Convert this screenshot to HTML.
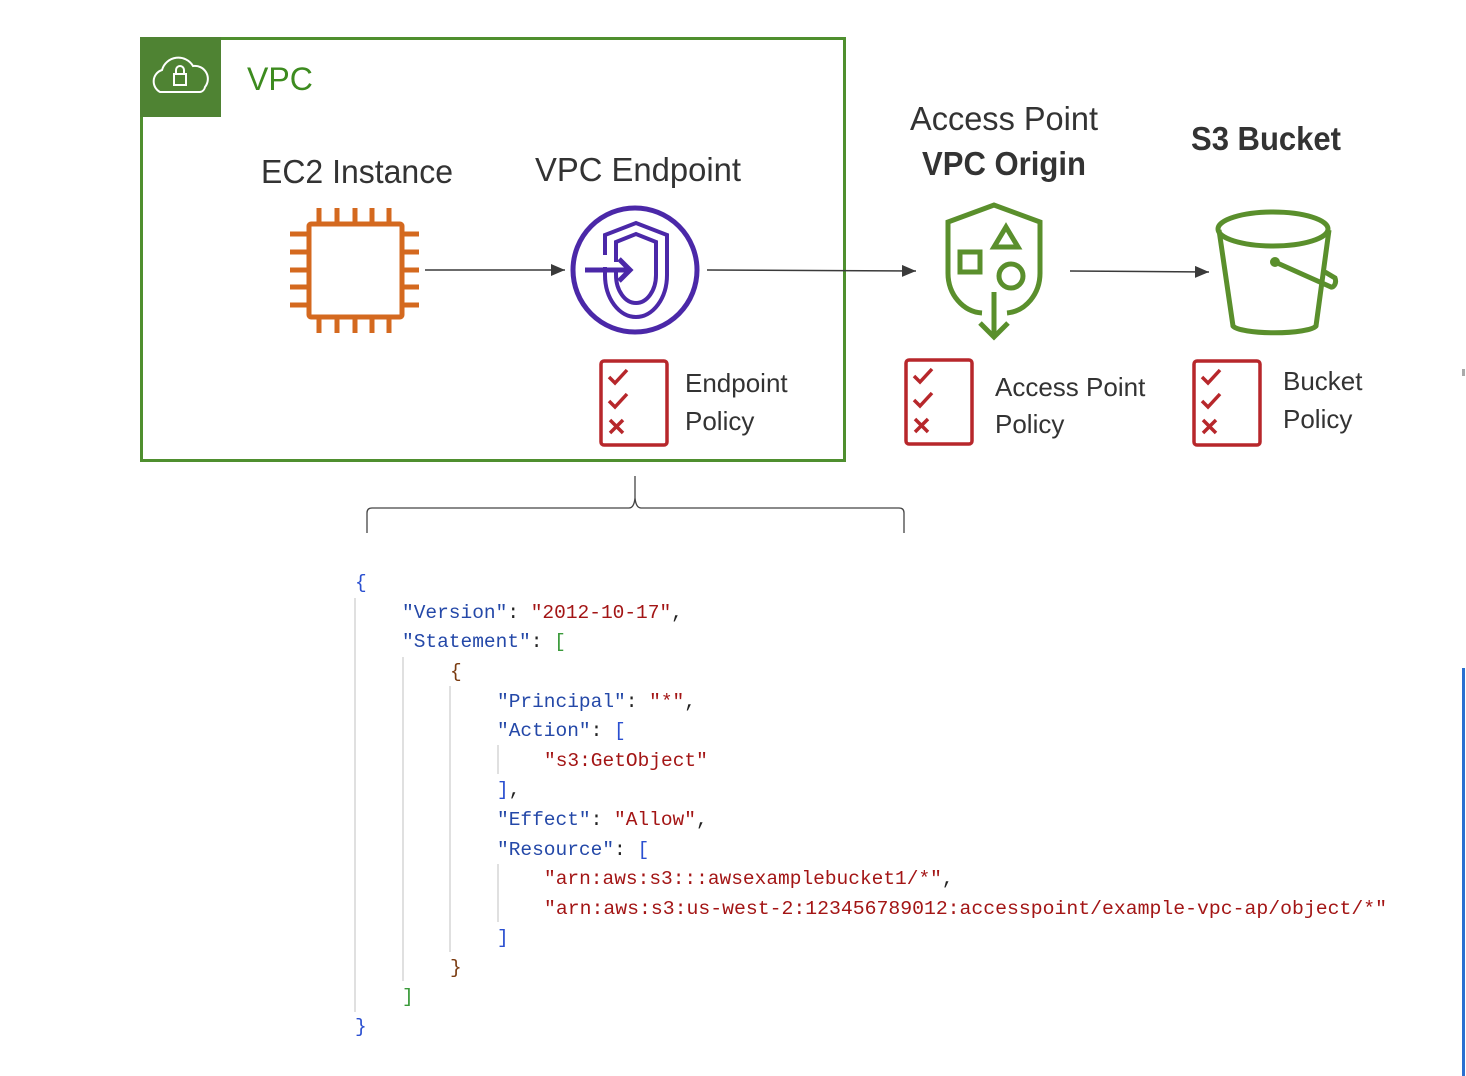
<!DOCTYPE html>
<html><head><meta charset="utf-8"><style>
html,body{margin:0;padding:0;background:#fff;}
svg{display:block;}
.lbl{font-family:"Liberation Sans",sans-serif;fill:#333;}
.code{font-family:"Liberation Mono",monospace;font-size:19.5px;}
.k{fill:#2448a8;} .s{fill:#a31515;} .p{fill:#222;}
</style></head><body>
<svg width="1466" height="1076" viewBox="0 0 1466 1076" xmlns="http://www.w3.org/2000/svg">
<defs>
<marker id="a2" viewBox="0 0 14 12" markerWidth="14" markerHeight="12" refX="14" refY="6" orient="auto" markerUnits="userSpaceOnUse"><path d="M0,0 L14,6 L0,12 z" fill="#3a3a3a"/></marker></defs>

<!-- VPC group -->
<rect x="141.5" y="38.5" width="703" height="422" fill="none" stroke="#4f8f2f" stroke-width="3"/>
<rect x="140" y="37" width="81" height="80" fill="#4f8333"/>
<path d="M160,92 a12,12 0 0 1 2,-22 a17,17 0 0 1 31,-4 a13,13 0 0 1 12,21 a6,6 0 0 1 -5,5 z" fill="none" stroke="#fff" stroke-width="2"/>
<rect x="174" y="74" width="12" height="11" fill="none" stroke="#fff" stroke-width="2"/>
<path d="M176,74 v-4 a4,4 0 0 1 8,0 v4" fill="none" stroke="#fff" stroke-width="2"/>
<text x="247" y="90" class="lbl" style="font-size:32px;fill:#3d8b1f">VPC</text>

<text x="357" y="183" text-anchor="middle" class="lbl" style="font-size:33px" textLength="192" lengthAdjust="spacingAndGlyphs">EC2 Instance</text>
<text x="638" y="181" text-anchor="middle" class="lbl" style="font-size:33px" textLength="206" lengthAdjust="spacingAndGlyphs">VPC Endpoint</text>

<!-- EC2 chip -->
<g stroke="#d4691f" stroke-width="5" fill="none">
<rect x="309" y="224" width="93" height="93" rx="2"/>
<path d="M319,208v16M337,208v16M355,208v16M372,208v16M389,208v16
M319,317v16M337,317v16M355,317v16M372,317v16M389,317v16
M290,234h19M290,252h19M290,270h19M290,287h19M290,305h19
M402,234h17M402,252h17M402,270h17M402,287h17M402,305h17"/>
</g>

<!-- VPC endpoint -->
<g stroke="#4b28a8" fill="none">
<circle cx="635" cy="270" r="62" stroke-width="5"/>
<path d="M605,255 v-20 l31,-12 l31,12 v40 a31,42 0 0 1 -62,0 v-8" stroke-width="4"/>
<path d="M616,262 v-20 l20,-8 l20,8 v33 a20,28 0 0 1 -40,0 v-6" stroke-width="4"/>
<path d="M585,270 h44 M619,259 l11,11 l-11,11" stroke-width="5"/>
</g>

<!-- arrows -->
<g stroke="#3a3a3a" stroke-width="1.5">
<line x1="425" y1="270" x2="565" y2="270" marker-end="url(#a2)"/>
<line x1="707" y1="270" x2="916" y2="271" marker-end="url(#a2)"/>
<line x1="1070" y1="271" x2="1209" y2="272" marker-end="url(#a2)"/>
</g>

<!-- Access point -->
<text x="1004" y="130" text-anchor="middle" class="lbl" style="font-size:33px" textLength="188" lengthAdjust="spacingAndGlyphs">Access Point</text>
<text x="1004" y="175" text-anchor="middle" class="lbl" style="font-size:33px;font-weight:bold" textLength="164" lengthAdjust="spacingAndGlyphs">VPC Origin</text>
<g stroke="#5a8f2c" stroke-width="5" fill="none">
<path d="M982,313 a36,40 0 0 1 -34,-40 v-51 l46,-17 l46,17 v51 a36,40 0 0 1 -33,40"/>
<rect x="960" y="252" width="20" height="20"/>
<path d="M1006,227 l12,20 h-24 z"/>
<circle cx="1011" cy="276" r="12"/>
<path d="M994,292 v45 M980,323 l14,14 l14,-14"/>
</g>

<!-- S3 bucket -->
<text x="1266" y="150" text-anchor="middle" class="lbl" style="font-size:33px;font-weight:bold" textLength="150" lengthAdjust="spacingAndGlyphs">S3 Bucket</text>
<g stroke="#5a8f2c" stroke-width="5" fill="none">
<ellipse cx="1273" cy="229" rx="55" ry="17"/>
<path d="M1219,230 l14,96 a42,8 0 0 0 83,0 l13,-96"/>
<path d="M1275,262 l56,25 a4,6 0 0 0 4,-9 l-10,-6"/>
</g>
<circle cx="1275" cy="262" r="5" fill="#5a8f2c"/>

<!-- policy icons -->
<g id="pol" stroke="#b7272b" fill="none">
<rect x="601" y="361" width="66" height="84" rx="3" stroke-width="3.5"/>
<path d="M609,377 l6,6 l12,-13 M609,401 l6,6 l12,-13 M610,420 l13,13 M623,420 l-13,13" stroke-width="3.5"/>
</g>
<use href="#pol" x="305" y="-1"/>
<use href="#pol" x="593" y="0"/>

<text x="685" y="392" class="lbl" style="font-size:26px">Endpoint</text>
<text x="685" y="430" class="lbl" style="font-size:26px">Policy</text>
<text x="995" y="396" class="lbl" style="font-size:26px">Access Point</text>
<text x="995" y="433" class="lbl" style="font-size:26px">Policy</text>
<text x="1283" y="390" class="lbl" style="font-size:26px">Bucket</text>
<text x="1283" y="428" class="lbl" style="font-size:26px">Policy</text>

<!-- brace -->
<path d="M367,533 v-20 q0,-5 5,-5 h257 q5,0 6,-10 v-22 M635,476 v22 q1,10 6,10 h258 q5,0 5,5 v20" fill="none" stroke="#444" stroke-width="1.3"/>

<!-- right edge marks -->
<rect x="1462" y="369" width="3" height="7" fill="#aaa"/>
<rect x="1462" y="668" width="3" height="408" fill="#2a6fd0"/>

<!-- guides -->
<g stroke="#ccc" stroke-width="1.2">
<line x1="355" y1="598" x2="355" y2="1012"/>
<line x1="403" y1="657" x2="403" y2="981"/>
<line x1="450" y1="686" x2="450" y2="952"/>
<line x1="498" y1="745" x2="498" y2="774"/>
<line x1="498" y1="864" x2="498" y2="922"/>
</g>

<g class="code">
<text x="355" y="588" fill="#2a4fd0">{</text>
<text x="402" y="618"><tspan class="k">"Version"</tspan><tspan class="p">: </tspan><tspan class="s">"2012-10-17"</tspan><tspan class="p">,</tspan></text>
<text x="402" y="647"><tspan class="k">"Statement"</tspan><tspan class="p">: </tspan><tspan fill="#3a9a3a">[</tspan></text>
<text x="450" y="677" fill="#7a3b10">{</text>
<text x="497" y="707"><tspan class="k">"Principal"</tspan><tspan class="p">: </tspan><tspan class="s">"*"</tspan><tspan class="p">,</tspan></text>
<text x="497" y="736"><tspan class="k">"Action"</tspan><tspan class="p">: </tspan><tspan fill="#2a4fd0">[</tspan></text>
<text x="544" y="766" class="s">"s3:GetObject"</text>
<text x="497" y="795"><tspan fill="#2a4fd0">]</tspan><tspan class="p">,</tspan></text>
<text x="497" y="825"><tspan class="k">"Effect"</tspan><tspan class="p">: </tspan><tspan class="s">"Allow"</tspan><tspan class="p">,</tspan></text>
<text x="497" y="855"><tspan class="k">"Resource"</tspan><tspan class="p">: </tspan><tspan fill="#2a4fd0">[</tspan></text>
<text x="544" y="884"><tspan class="s">"arn:aws:s3:::awsexamplebucket1/*"</tspan><tspan class="p">,</tspan></text>
<text x="544" y="914" class="s" textLength="843" lengthAdjust="spacingAndGlyphs">"arn:aws:s3:us-west-2:123456789012:accesspoint/example-vpc-ap/object/*"</text>
<text x="497" y="943" fill="#2a4fd0">]</text>
<text x="450" y="973" fill="#7a3b10">}</text>
<text x="402" y="1002" fill="#3a9a3a">]</text>
<text x="355" y="1032" fill="#2a4fd0">}</text>
</g>
</svg>
</body></html>
